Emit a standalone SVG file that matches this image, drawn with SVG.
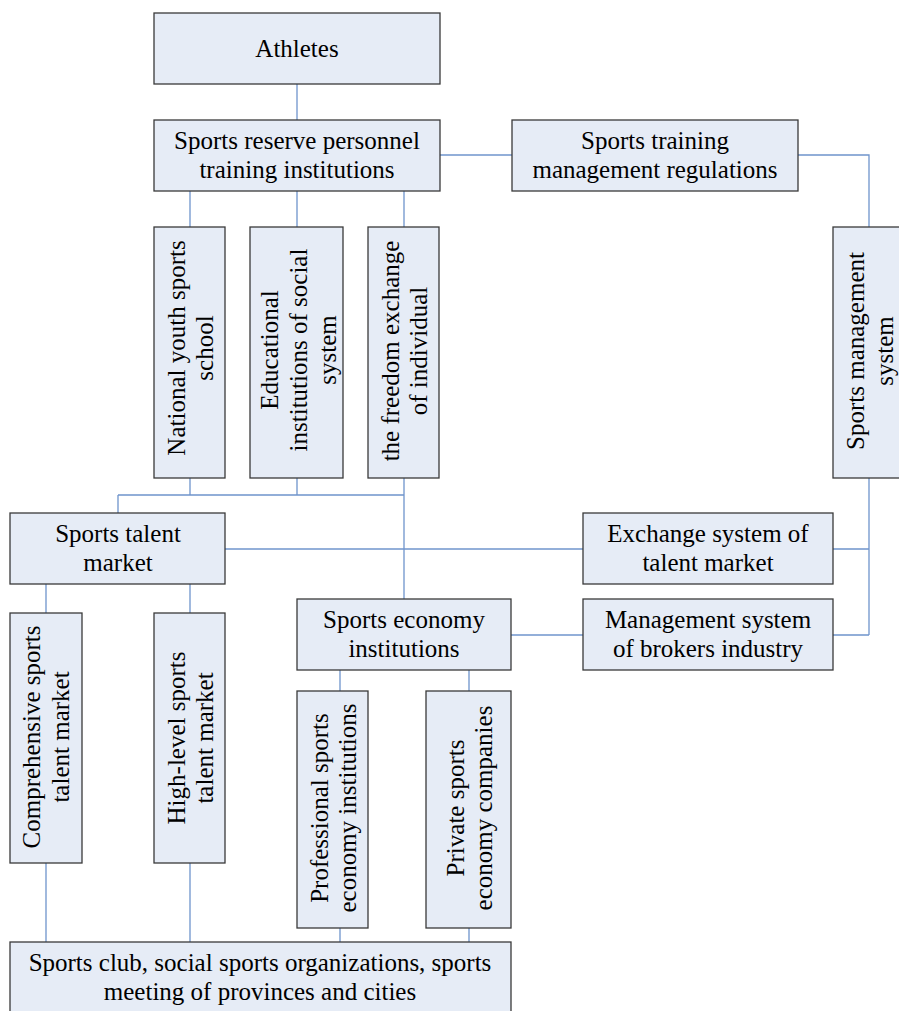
<svg xmlns="http://www.w3.org/2000/svg" width="899" height="1011" viewBox="0 0 899 1011">
<style>
.box{fill:#e6ecf6;stroke:#3a3a3a;stroke-width:1.3}
.t{font-family:"Liberation Serif","Times New Roman",serif;font-size:25px;fill:#000;text-anchor:middle}
.c{stroke:#6f94cc;stroke-width:1.3;fill:none}
</style>
<rect width="899" height="1011" fill="#fff"/>
<g id="connectors">
<path class="c" d="M297 84V120"/>
<path class="c" d="M440 155H512"/>
<path class="c" d="M798 155H869V227"/>
<path class="c" d="M190 191V227M297 191V227M404 191V227"/>
<path class="c" d="M190 478V495M297 478V495M404 478V599M118 495H404M118 495V513"/>
<path class="c" d="M225 549H583"/>
<path class="c" d="M869 478V635M833 549H869M833 635H869"/>
<path class="c" d="M511 635H583"/>
<path class="c" d="M46 584V613M190 584V613"/>
<path class="c" d="M46 863V942M190 863V942"/>
<path class="c" d="M340 670V691M469 670V691"/>
<path class="c" d="M340 928V942M469 928V942"/>
</g>
<g id="athletes"><rect class="box" x="154" y="13" width="286" height="71"/><text class="t" x="297" y="57">Athletes</text></g>
<g id="reserve"><rect class="box" x="154" y="120" width="286" height="71"/><text class="t" x="297" y="149">Sports reserve personnel</text><text class="t" x="297" y="178">training institutions</text></g>
<g id="regulations"><rect class="box" x="512" y="120" width="286" height="71"/><text class="t" x="655" y="149">Sports training</text><text class="t" x="655" y="178">management regulations</text></g>
<g id="youth"><rect class="box" x="154" y="227" width="71" height="251"/><text class="t" transform="translate(190,348) rotate(-90)"><tspan x="0" y="-5">National youth sports</tspan><tspan x="0" y="23">school</tspan></text></g>
<g id="educational"><rect class="box" x="250" y="227" width="93" height="251"/><text class="t" transform="translate(297,350) rotate(-90)"><tspan x="0" y="-19">Educational</tspan><tspan x="0" y="10">institutions of social</tspan><tspan x="0" y="39">system</tspan></text></g>
<g id="freedom"><rect class="box" x="368" y="227" width="71" height="251"/><text class="t" transform="translate(404,351) rotate(-90)"><tspan x="0" y="-5">the freedom exchange</tspan><tspan x="0" y="23">of individual</tspan></text></g>
<g id="mgmtsystem"><rect class="box" x="833" y="227" width="72" height="251"/><text class="t" transform="translate(869,351) rotate(-90)"><tspan x="0" y="-5">Sports management</tspan><tspan x="0" y="24">system</tspan></text></g>
<g id="talentmarket"><rect class="box" x="10" y="513" width="215" height="71"/><text class="t" x="118" y="542">Sports talent</text><text class="t" x="118" y="571">market</text></g>
<g id="exchange"><rect class="box" x="583" y="513" width="250" height="71"/><text class="t" x="708" y="542">Exchange system of</text><text class="t" x="708" y="571">talent market</text></g>
<g id="economy"><rect class="box" x="297" y="599" width="214" height="71"/><text class="t" x="404" y="628">Sports economy</text><text class="t" x="404" y="657">institutions</text></g>
<g id="brokers"><rect class="box" x="583" y="599" width="250" height="71"/><text class="t" x="708" y="628">Management system</text><text class="t" x="708" y="657">of brokers industry</text></g>
<g id="comprehensive"><rect class="box" x="10" y="613" width="72" height="250"/><text class="t" transform="translate(46,737) rotate(-90)"><tspan x="0" y="-6">Comprehensive sports</tspan><tspan x="0" y="23">talent market</tspan></text></g>
<g id="highlevel"><rect class="box" x="154" y="613" width="71" height="250"/><text class="t" transform="translate(190,738) rotate(-90)"><tspan x="0" y="-5">High-level sports</tspan><tspan x="0" y="23">talent market</tspan></text></g>
<g id="professional"><rect class="box" x="297" y="691" width="71" height="237"/><text class="t" transform="translate(333,808) rotate(-90)"><tspan x="0" y="-5">Professional sports</tspan><tspan x="0" y="23">economy institutions</tspan></text></g>
<g id="private"><rect class="box" x="426" y="691" width="85" height="237"/><text class="t" transform="translate(469,808) rotate(-90)"><tspan x="0" y="-5">Private sports</tspan><tspan x="0" y="23">economy companies</tspan></text></g>
<g id="clubs"><rect class="box" x="10" y="942" width="501" height="75"/><text class="t" x="260" y="971">Sports club, social sports organizations, sports</text><text class="t" x="260" y="1000">meeting of provinces and cities</text></g>
</svg>
